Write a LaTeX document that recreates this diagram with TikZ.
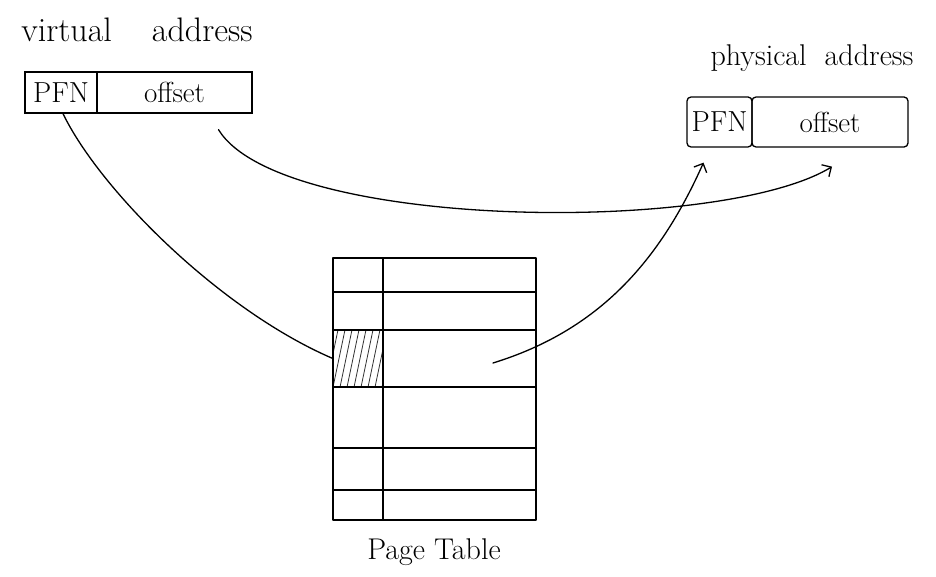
\documentclass[tikz,border=0pt]{standalone}
\usepackage{fontspec}
\setmainfont{Latin Modern Roman}
\usetikzlibrary{arrows.meta}
\tikzset{
  ink/.style={line width=1.3pt, black, line cap=round, line join=round},
  handtext/.style={font=\fontsize{34}{38}\selectfont, inner sep=0pt},
  cellbox/.style={draw, line width=1.3pt, minimum height=41pt, inner sep=0pt, font=\fontsize{29}{32}\selectfont},
  link/.style={ink, -{Straight Barb[length=7pt,width=14pt]}},
  hatchline/.style={line width=0.8pt, black!80},
}
\begin{document}
\begin{tikzpicture}[x=1pt,y=-1pt]
\useasboundingbox (0,0) rectangle (936,577);
% virtual address
\node[handtext] (vlabel) at (137,30) {virtual\hspace{40pt}address};
\node[cellbox, minimum width=72pt] (vpfn) at (61,92.5) {PFN};
\node[cellbox, minimum width=155pt] (voff) at (174.5,92.5) {offset};
% physical address
\node[handtext, font=\fontsize{30}{34}\selectfont] (plabel) at (812,58) {physical\hspace{18pt}address};
\node[cellbox, minimum width=65pt, minimum height=50pt, rounded corners=4pt] (ppfn) at (719.5,122) {PFN};
\node[cellbox, minimum width=156pt, minimum height=50pt, rounded corners=4pt] (poff) at (830,122) {offset};
% page table
\begin{scope}
  \clip (333,330) rectangle (383,387);
  \foreach \i in {0,...,9} \draw[hatchline] (318+\i*7,392) -- (332+\i*7,325);
\end{scope}
\draw[ink] (333,258) rectangle (536,520);
\draw[ink] (383,258) -- (383,520);
\foreach \yy in {292,330,387,448,490} \draw[ink] (333,\yy) -- (536,\yy);
\node[minimum width=50pt, minimum height=57pt, inner sep=0pt] (hot) at (358,358.5) {};
\node[minimum width=153pt, minimum height=57pt, inner sep=0pt] (hotentry) at (459.5,358.5) {};
\coordinate (entry) at (493,363);
\node[handtext, font=\fontsize{30}{34}\selectfont] (ptlabel) at (434,552) {Page Table};
% connectors
\draw[ink] ([xshift=2pt]vpfn.south) .. controls (100,190) and (220,310) .. (hot.west);
\draw[link] ([shift={(44,16)}]voff.south) .. controls (280,230) and (720,235) .. ([shift={(2,19)}]poff.south);
\draw[link] (entry) .. controls (600,330) and (660,260) .. ([shift={(-16,15)}]ppfn.south);
\end{tikzpicture}
\end{document}
